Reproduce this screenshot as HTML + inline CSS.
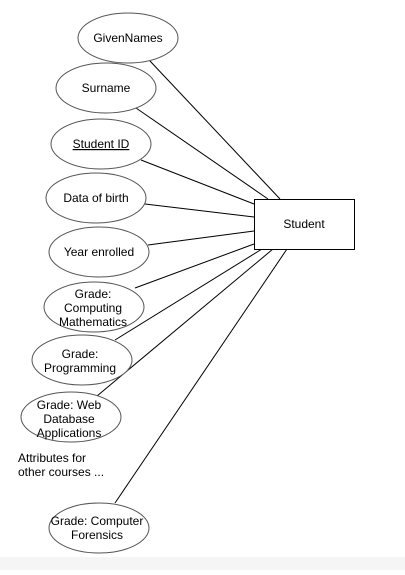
<!DOCTYPE html>
<html><head><style>
body{margin:0;background:#fff;width:405px;height:570px;overflow:hidden}
svg text{font-family:"Liberation Sans",Arial,sans-serif;font-size:12px;fill:#000}
</style></head><body>
<svg width="405" height="570" xmlns="http://www.w3.org/2000/svg">
<rect x="0" y="557" width="405" height="13" fill="#f5f5f5"/>
<g stroke="#000" stroke-width="1" fill="none">
<line x1="150" y1="61" x2="280" y2="199"/>
<line x1="136" y1="108" x2="268" y2="199"/>
<line x1="141" y1="160" x2="254" y2="204"/>
<line x1="145" y1="204" x2="254" y2="217"/>
<line x1="148" y1="245" x2="254" y2="231"/>
<line x1="135" y1="288" x2="254" y2="244"/>
<line x1="115" y1="340" x2="262" y2="249"/>
<line x1="97" y1="396" x2="273" y2="249"/>
<line x1="115" y1="503" x2="287" y2="249"/>
</g>
<g stroke="#555" stroke-width="1" fill="#fff">
<ellipse cx="128" cy="38" rx="50" ry="25"/>
<ellipse cx="106" cy="88" rx="50" ry="25"/>
<ellipse cx="101" cy="144" rx="50" ry="25"/>
<ellipse cx="96" cy="198" rx="50" ry="25"/>
<ellipse cx="99" cy="252" rx="50" ry="25"/>
<ellipse cx="94" cy="307" rx="50" ry="25"/>
<ellipse cx="82" cy="360" rx="50" ry="25"/>
<ellipse cx="71" cy="417" rx="50" ry="25"/>
<ellipse cx="99" cy="528" rx="50" ry="25"/>
</g>
<rect x="254.5" y="199.5" width="100" height="50" fill="#fff" stroke="#000"/>
<g text-anchor="middle">
<text x="128" y="42">GivenNames</text>
<text x="106" y="92">Surname</text>
<text x="101" y="148" text-decoration="underline">Student ID</text>
<text x="96" y="202">Data of birth</text>
<text x="99" y="256">Year enrolled</text>
<text x="93" y="298">Grade:</text>
<text x="93" y="312">Computing</text>
<text x="93" y="326">Mathematics</text>
<text x="80" y="358">Grade:</text>
<text x="80" y="372">Programming</text>
<text x="69" y="409">Grade: Web</text>
<text x="69" y="423">Database</text>
<text x="69" y="437">Applications</text>
<text x="97" y="525">Grade: Computer</text>
<text x="97" y="539">Forensics</text>
<text x="304" y="228">Student</text>
</g>
<text x="18" y="462">Attributes for</text>
<text x="18" y="476">other courses ...</text>
</svg>
</body></html>
